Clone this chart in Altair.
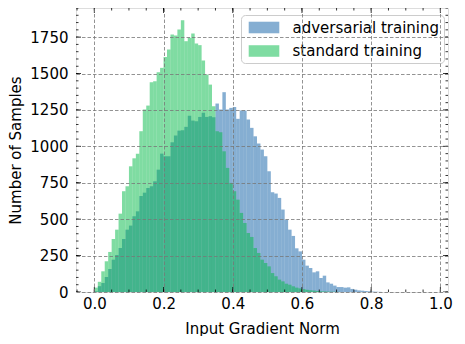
import altair as alt
import pandas as pd

# ---------------- data ----------------
bin_width = 0.01
adversarial = [5, 40, 62, 103, 158, 222, 254, 302, 364, 428,
               456, 520, 554, 659, 682, 714, 726, 760, 840, 950,
               932, 932, 1028, 1074, 1108, 1110, 1134, 1211, 1177, 1172,
               1202, 1230, 1202, 1207, 1200, 1294, 1253, 1372, 1253, 1264,
               1271, 1189, 1246, 1246, 1184, 1127, 1069, 1019, 978, 932,
               829, 685, 676, 646, 566, 497, 428, 385, 300, 279,
               222, 181, 165, 135, 142, 96, 112, 66, 57, 44,
               34, 34, 30, 32, 21, 16, 11, 9, 7, 5,
               3, 2, 1]
standard = [30, 70, 142, 211, 275, 364, 428, 538, 692, 726,
            863, 918, 950, 1104, 1253, 1280, 1440, 1447, 1509, 1539,
            1614, 1665, 1768, 1761, 1802, 1866, 1722, 1745, 1775, 1706,
            1695, 1589, 1493, 1424, 1276, 1104, 1097, 966, 852, 749,
            692, 634, 543, 474, 405, 378, 302, 268, 222, 199,
            176, 130, 108, 85, 73, 57, 50, 39, 30, 25,
            20, 15, 12, 10, 7, 5, 4, 3, 2, 2,
            1]
series_names = ["adversarial training", "standard training"]
series_colors = ["#0C5DA5", "#00B945"]

x_major = [0.0, 0.2, 0.4, 0.6, 0.8, 1.0]
x_minor = [round(-0.05 + 0.05 * k, 2) for k in range(22)]
y_major = [0, 250, 500, 750, 1000, 1250, 1500, 1750]
y_minor = list(range(0, 1951, 50))

rows = []
for name, vals in zip(series_names, [adversarial, standard]):
    for i, v in enumerate(vals):
        rows.append({"series": name, "x0": round(i * bin_width, 4),
                     "x1": round((i + 1) * bin_width, 4), "count": v})
df = pd.DataFrame(rows)

W, H = 372, 284
FONT = "DejaVu Sans"

xs = alt.Scale(domain=[-0.053, 1.022], nice=False, zero=False)
ys = alt.Scale(domain=[0, 1950], nice=False, zero=True)

x_axis = alt.Axis(values=x_major, format=".1f", title="Input Gradient Norm",
                  grid=True, gridColor="#777777", gridDash=[3.5, 2], gridWidth=0.8,
                  ticks=False, tickSize=0, domain=False, labelPadding=4,
                  labelFontSize=15, labelFont=FONT, labelColor="black",
                  titleFontSize=15, titleFont=FONT, titleFontWeight="normal",
                  titleColor="black", titleY=36, titleBaseline="middle", zindex=1)
y_axis = alt.Axis(values=y_major, format="d", title="Number of Samples",
                  grid=True, gridColor="#777777", gridDash=[3.5, 2], gridWidth=0.8,
                  ticks=False, tickSize=0, domain=False, labelPadding=8,
                  labelFontSize=15, labelFont=FONT, labelColor="black",
                  titleFontSize=15, titleFont=FONT, titleFontWeight="normal",
                  titleColor="black", titleX=-61, titleY=H / 2,
                  titleBaseline="middle", titleAlign="center", zindex=1)

bars = alt.Chart(df).mark_bar(opacity=0.5, clip=True).encode(
    x=alt.X("x0:Q", scale=xs, axis=x_axis),
    x2="x1:Q",
    y=alt.Y("count:Q", scale=ys, stack=None, axis=y_axis),
    y2=alt.datum(0),
    color=alt.Color("series:N",
                    scale=alt.Scale(domain=series_names, range=series_colors),
                    legend=alt.Legend(title=None, orient="none", legendX=165, legendY=7,
                                      fillColor="rgba(255,255,255,0.8)",
                                      strokeColor="#cccccc", cornerRadius=4,
                                      padding=4,
                                      symbolType="M-1.8,-0.68H1.8V0.68H-1.8Z",
                                      symbolSize=289, symbolOffset=10.5,
                                      symbolStrokeWidth=0, symbolOpacity=0.5,
                                      labelFontSize=15, labelFont=FONT,
                                      labelColor="black", labelOffset=20,
                                      rowPadding=6.5)),
)


def xticks(vals, length, top):
    d = pd.DataFrame({"v": vals})
    if top:
        yy, yy2 = alt.value(0), alt.value(length)
    else:
        yy, yy2 = alt.value(H), alt.value(H - length)
    return alt.Chart(d).mark_rule(color="black", strokeWidth=0.8, clip=True).encode(
        x=alt.X("v:Q", scale=xs, axis=x_axis), y=yy, y2=yy2)


def yticks(vals, length, right):
    d = pd.DataFrame({"v": vals})
    if right:
        xx, xx2 = alt.value(W), alt.value(W - length)
    else:
        xx, xx2 = alt.value(0), alt.value(length)
    return alt.Chart(d).mark_rule(color="black", strokeWidth=0.8, clip=True).encode(
        y=alt.Y("v:Q", scale=ys, axis=y_axis), x=xx, x2=xx2)


layers = [bars,
          xticks(x_major, 5, False), xticks(x_major, 5, True),
          xticks(x_minor, 2.5, False), xticks(x_minor, 2.5, True),
          yticks(y_major, 5, False), yticks(y_major, 5, True),
          yticks(y_minor, 2.5, False), yticks(y_minor, 2.5, True)]

chart = alt.layer(*layers).properties(
    width=W, height=H,
    autosize=alt.AutoSizeParams(type="none"),
    padding={"left": 68, "top": 0, "right": 9, "bottom": 44},
).configure_view(stroke="black", strokeWidth=1.2).configure(font=FONT)

chart.save("out.html", embed_options={"renderer": "svg", "actions": False})
